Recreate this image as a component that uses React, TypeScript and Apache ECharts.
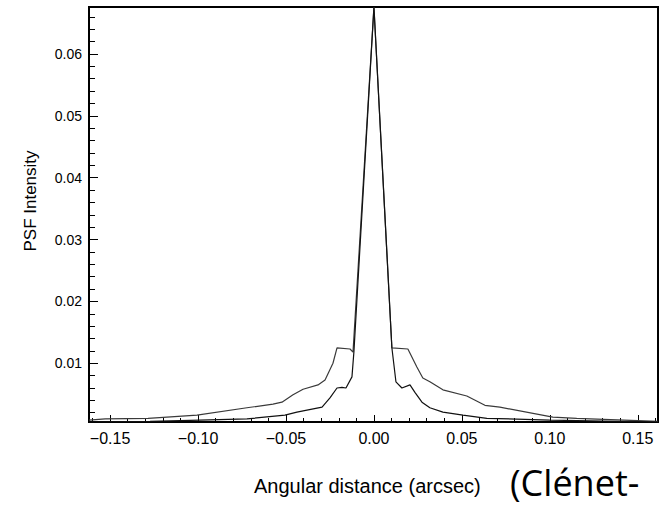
import React, { useEffect, useRef } from "react";
import * as echarts from "echarts";

// Outer (wider wings) PSF profile
const outerX = [-0.162, -0.1528, -0.1284, -0.1006, -0.0722, -0.0574, -0.0523, -0.046, -0.0403, -0.0318, -0.0278, -0.0233, -0.021, -0.0136, -0.0119, 0, 0.0102, 0.0193, 0.0244, 0.0278, 0.0318, 0.0392, 0.0528, 0.0631, 0.0716, 0.1017, 0.1153, 0.1614];
const outerY = [0.0008, 0.001, 0.0011, 0.0016, 0.0028, 0.0034, 0.0037, 0.0049, 0.0058, 0.0065, 0.0073, 0.01, 0.0125, 0.0123, 0.0118, 0.0676, 0.0125, 0.0123, 0.0094, 0.0076, 0.007, 0.0057, 0.0047, 0.0032, 0.0029, 0.0013, 0.0011, 0.0006];

// Inner (narrower wings) PSF profile
const innerX = [-0.162, -0.1273, -0.0989, -0.0722, -0.0506, -0.0438, -0.0295, -0.025, -0.021, -0.0182, -0.0159, -0.0125, -0.0114, 0, 0.0102, 0.0125, 0.0159, 0.0205, 0.0233, 0.0273, 0.0318, 0.0392, 0.0506, 0.0642, 0.1, 0.1614];
const innerY = [0.0005, 0.0006, 0.0008, 0.001, 0.0016, 0.0021, 0.0029, 0.0044, 0.006, 0.0061, 0.006, 0.0078, 0.0118, 0.0676, 0.0125, 0.007, 0.006, 0.0065, 0.0053, 0.0037, 0.0028, 0.0021, 0.0016, 0.0011, 0.0008, 0.0005];

const xMajorTicks = [-0.15, -0.1, -0.05, 0, 0.05, 0.1, 0.15];
const xMinorTicks = [-0.16, -0.14, -0.13, -0.12, -0.11, -0.09, -0.08, -0.07, -0.06, -0.04, -0.03, -0.02, -0.01, 0.01, 0.02, 0.03, 0.04, 0.06, 0.07, 0.08, 0.09, 0.11, 0.12, 0.13, 0.14, 0.16];
const yMajorTicks = [0.01, 0.02, 0.03, 0.04, 0.05, 0.06];
const yMinorTicks = [0.002, 0.004, 0.006, 0.008, 0.012, 0.014, 0.016, 0.018, 0.022, 0.024, 0.026, 0.028, 0.032, 0.034, 0.036, 0.038, 0.042, 0.044, 0.046, 0.048, 0.052, 0.054, 0.056, 0.058, 0.062, 0.064, 0.066];

const X_MIN = -0.162;
const X_MAX = 0.1615;
const Y_MIN = 0.0005;
const Y_MAX = 0.0676;

const FONT = "'Liberation Sans', Arial, sans-serif";

function fmtX(v: number) {
  const r = Math.round(v * 100) / 100;
  if (r < 0) return "\u2212" + Math.abs(r).toFixed(2);
  return r.toFixed(2);
}

export default function App() {
  const ref = useRef<HTMLDivElement>(null);
  useEffect(() => {
    if (!ref.current) return;
    const chart = echarts.init(ref.current, undefined, { renderer: "svg" });
    const outer = outerX.map((x, i) => [x, outerY[i]]);
    const inner = innerX.map((x, i) => [x, innerY[i]]);
    chart.setOption({
      animation: false,
      backgroundColor: "#ffffff",
      grid: {
        left: 89,
        right: 4,
        top: 7,
        bottom: 87,
        show: true,
        borderColor: "#000",
        borderWidth: 2,
        backgroundColor: "transparent",
      },
      xAxis: [
        {
          type: "value",
          min: X_MIN,
          max: X_MAX,
          position: "bottom",
          axisLine: { show: true, onZero: false, lineStyle: { color: "#000", width: 2 } },
          axisTick: {
            show: true,
            inside: true,
            length: 7,
            customValues: xMajorTicks,
            lineStyle: { color: "#000", width: 1 },
          },
          axisLabel: {
            show: true,
            customValues: xMajorTicks,
            formatter: (v: number) => fmtX(v),
            color: "#000",
            fontFamily: FONT,
            fontSize: 16,
            margin: 8,
          },
          splitLine: { show: false },
        },
        {
          type: "value",
          min: X_MIN,
          max: X_MAX,
          position: "bottom",
          axisLine: { show: false, onZero: false },
          axisTick: {
            show: true,
            inside: true,
            length: 4,
            customValues: xMinorTicks,
            lineStyle: { color: "#000", width: 1 },
          },
          axisLabel: { show: false },
          splitLine: { show: false },
        },
      ],
      yAxis: [
        {
          type: "value",
          min: Y_MIN,
          max: Y_MAX,
          position: "left",
          axisLine: { show: true, onZero: false, lineStyle: { color: "#000", width: 2 } },
          axisTick: {
            show: true,
            inside: true,
            length: 9,
            customValues: yMajorTicks,
            lineStyle: { color: "#000", width: 1 },
          },
          axisLabel: {
            show: true,
            customValues: yMajorTicks,
            formatter: (v: number) => v.toFixed(2),
            color: "#000",
            fontFamily: FONT,
            fontSize: 14,
            margin: 7,
          },
          splitLine: { show: false },
        },
        {
          type: "value",
          min: Y_MIN,
          max: Y_MAX,
          position: "left",
          axisLine: { show: false, onZero: false },
          axisTick: {
            show: true,
            inside: true,
            length: 6,
            customValues: yMinorTicks,
            lineStyle: { color: "#000", width: 1 },
          },
          axisLabel: { show: false },
          splitLine: { show: false },
        },
      ],
      series: [
        {
          type: "line",
          name: "outer",
          data: outer,
          xAxisIndex: 0,
          yAxisIndex: 0,
          showSymbol: false,
          symbol: "none",
          lineStyle: { color: "#3a3a3a", width: 1.2 },
          z: 3,
        },
        {
          type: "line",
          name: "inner",
          data: inner,
          xAxisIndex: 0,
          yAxisIndex: 0,
          showSymbol: false,
          symbol: "none",
          lineStyle: { color: "#111", width: 1.2 },
          z: 4,
        },
      ],
      graphic: [
        {
          type: "text",
          x: 30,
          y: 201,
          rotation: Math.PI / 2,
          style: {
            text: "PSF Intensity",
            fill: "#000",
            font: "17px 'Liberation Sans', Arial, sans-serif",
            align: "center",
            verticalAlign: "middle",
          },
        },
        {
          type: "text",
          x: 254,
          y: 486,
          style: {
            text: "Angular distance (arcsec)",
            fill: "#000",
            font: "20px 'Liberation Sans', Arial, sans-serif",
            verticalAlign: "middle",
          },
        },
        {
          type: "text",
          x: 510,
          y: 482,
          style: {
            text: "(Clénet-",
            fill: "#000",
            font: "36px 'Open Sans', 'Noto Sans', sans-serif",
            verticalAlign: "middle",
          },
        },
      ],
    });
    return () => chart.dispose();
  }, []);
  return (
    <div
      ref={ref}
      style={{ position: "fixed", left: 0, top: 0, width: 662, height: 509 }}
    />
  );
}
